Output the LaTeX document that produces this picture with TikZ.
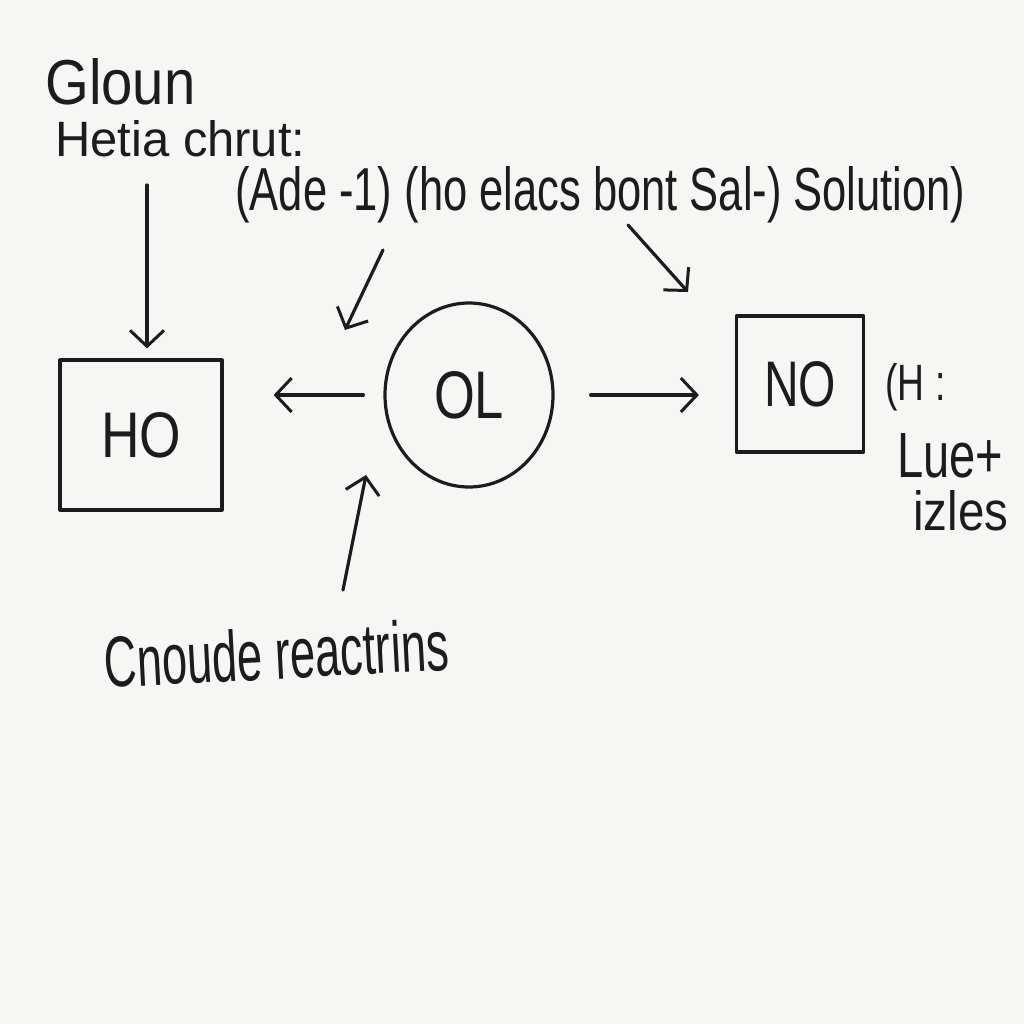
\documentclass[tikz,border=0pt]{standalone}
\usepackage{fontspec}
\setmainfont{Liberation Sans}
\usetikzlibrary{arrows.meta,shapes.geometric}
\definecolor{paper}{HTML}{F6F6F5}
\definecolor{ink}{HTML}{1C1C1C}
\newcommand{\hw}[3]{\resizebox{#1pt}{#2pt}{#3}}
\tikzset{
  pen/.style={draw=ink, line width=1.6pt, line cap=round, line join=round},
  arr/.style={pen, -{Straight Barb[length=8pt,width=17pt,line width=1.5pt]}},
  boxnode/.style={pen, rectangle, inner sep=0pt, text=ink},
  ovalnode/.style={pen, ellipse, inner sep=0pt, text=ink},
  label/.style={inner sep=0pt, text=ink, anchor=base west},
}
\begin{document}
\begin{tikzpicture}[x=0.5pt, y=-0.5pt]
\fill[paper] (0,0) rectangle (1024,1024);
\useasboundingbox (0,0) rectangle (1024,1024);

% texts
\node[label] (t1) at (45,104) {\hw{75}{23}{Gloun}};
\node[label] (t2) at (55,156) {\hw{125}{18}{Hetia chrut:}};
\node[label] (t3) at (235,210) {\hw{365}{22}{(Ade -1) (ho elacs bont Sal-) Solution)}};
\node[label] (t4) at (885,400) {\hw{30}{18.5}{(H :}};
\node[label] (t5) at (897,477) {\hw{53}{22}{Lue+}};
\node[label] (t6) at (913,530) {\hw{47.5}{20}{izles}};
\node[label, rotate=3] (t7) at (105,688) {\hw{172.5}{26}{Cnoude reactrins}};

% main nodes
\node[boxnode, minimum width=81pt, minimum height=75pt] (HO) at (141,435) {\hw{40}{22.5}{HO}};
\node[ovalnode, minimum width=84pt, minimum height=92pt] (OL) at (469,395) {\hw{35}{23.5}{OL}};
\node[boxnode, minimum width=63.5pt, minimum height=68pt] (NO) at (800,384) {\hw{36}{22.5}{NO}};

% free ends
\coordinate (a1s) at (147,185);
\coordinate (a3s) at (383,250);
\coordinate (a3e) at (345,330);
\coordinate (a4s) at (628,225);
\coordinate (a4e) at (688,292);
\coordinate (a6s) at (343,590);
\coordinate (a6e) at (366,475);

% connectors
\draw[arr, shorten >=5pt] (a1s) -- (a1s |- HO.north);
\draw[arr, shorten <=10pt, shorten >=25pt] (OL.west) -- (OL.west -| HO.east);
\draw[arr, shorten <=18pt, shorten >=18pt] (OL.east) -- (OL.east -| NO.west);
\draw[arr] (a3s) -- (a3e);
\draw[arr] (a4s) -- (a4e);
\draw[arr] (a6s) -- (a6e);
\end{tikzpicture}
\end{document}
